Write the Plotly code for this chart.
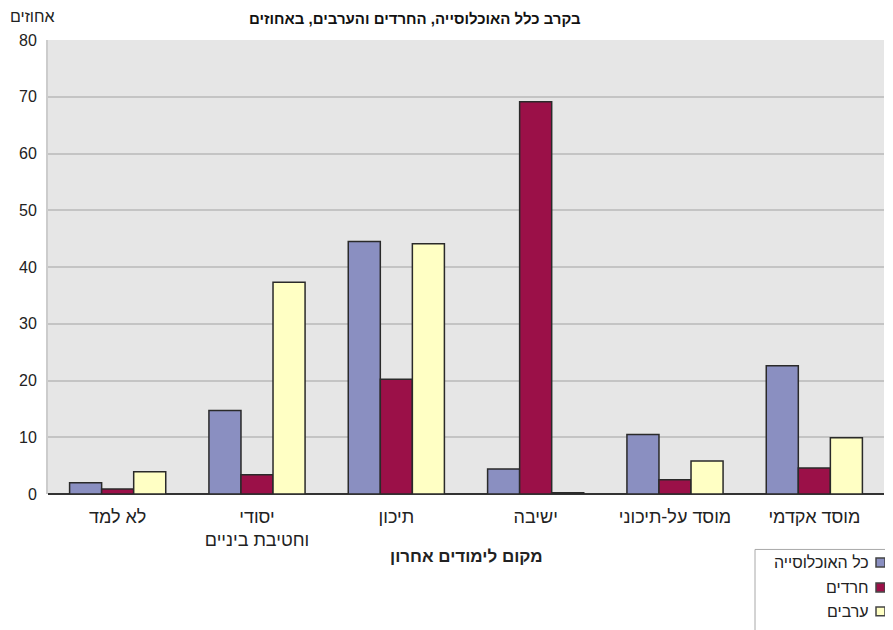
import plotly.graph_objects as go

categories = ["לא למד", "יסודי<br>וחטיבת ביניים", "תיכון", "ישיבה", "מוסד על-תיכוני", "מוסד אקדמי"]
series_names = ["כל האוכלוסייה", "חרדים", "ערבים"]
all_pop = [2.0, 14.7, 44.5, 4.4, 10.5, 22.6]
haredim = [0.9, 3.4, 20.2, 69.1, 2.5, 4.6]
arabs = [3.9, 37.3, 44.1, 0.2, 5.8, 9.9]
series_values = [all_pop, haredim, arabs]
colors = ["#8a8fc1", "#9b1048", "#ffffc4"]
y_ticks = [0, 10, 20, 30, 40, 50, 60, 70, 80]
title_text = "בקרב כלל האוכלוסייה, החרדים והערבים, באחוזים"
y_title = "אחוזים"
x_title = "מקום לימודים אחרון"

W, H = 893, 630
OFF = 8  # page body margin
PL, PT, PB, PR = 48, 40, 494.5, 884  # plot area in page pixels
pw, ph = PR - PL, PB - PT
L = PL - OFF
T = PT - OFF
R = W - L - pw
B = H - T - ph

def px(x):
    return (x - PL) / pw

def py(y):
    return (PB - y) / ph

FONT = "Liberation Sans, Arial, sans-serif"

fig = go.Figure()
for name, vals, col in zip(series_names, series_values, colors):
    fig.add_trace(go.Bar(
        x=categories, y=vals, name=name,
        marker=dict(color=col, line=dict(color="#2a2a2a", width=1.5)),
        showlegend=False,
    ))

fig.update_layout(
    width=W, height=H,
    margin=dict(l=L, r=R, t=T, b=B, autoexpand=False),
    paper_bgcolor="white",
    plot_bgcolor="#e6e6e6",
    barmode="group",
    bargap=0.31,
    bargroupgap=0,
    font=dict(family=FONT, color="#222"),
    xaxis=dict(
        showgrid=False, showline=False, ticks="",
        tickfont=dict(size=18, family=FONT, color="#222"),
        ticklabelstandoff=10,
    ),
    yaxis=dict(
        range=[0, 80], tickvals=y_ticks,
        showgrid=True, gridcolor="#c4c4c4", gridwidth=1.5,
        zeroline=True, zerolinecolor="#333", zerolinewidth=1.5,
        showline=True, linecolor="#cccccc", linewidth=2,
        tickfont=dict(size=16, family=FONT, color="#222"),
        ticks="", ticklabelstandoff=6,
    ),
)

ann = []
# title at the very top
ann.append(dict(text="<b>" + title_text + "</b>", xref="paper", yref="paper",
                x=px(415), y=py(18), xanchor="center", yanchor="middle",
                showarrow=False, font=dict(size=15, family=FONT, color="#111")))
# y axis title
ann.append(dict(text=y_title, xref="paper", yref="paper",
                x=px(8), y=py(16), xanchor="left", yanchor="middle",
                showarrow=False, font=dict(size=16, family=FONT, color="#222")))
# x axis title
ann.append(dict(text="<b>" + x_title + "</b>", xref="paper", yref="paper",
                x=px(466), y=py(557), xanchor="center", yanchor="middle",
                showarrow=False, font=dict(size=17, family=FONT, color="#222")))

shapes = []
# legend box
shapes.append(dict(type="rect", xref="paper", yref="paper",
                   x0=px(755), x1=px(891), y0=py(550), y1=py(640),
                   line=dict(color="#a8a8a8", width=1), fillcolor="white", layer="above"))
legend_y = [563, 588, 612]
for name, col, ly in zip(series_names, colors, legend_y):
    shapes.append(dict(type="rect", xref="paper", yref="paper",
                       x0=px(876), x1=px(885), y0=py(ly - 4.5), y1=py(ly + 4.5),
                       line=dict(color="#444", width=1.5), fillcolor=col, layer="above"))
    ann.append(dict(text=name, xref="paper", yref="paper",
                    x=px(871), y=py(ly), xanchor="right", yanchor="middle",
                    showarrow=False, font=dict(size=16, family=FONT, color="#222")))

fig.update_layout(annotations=ann, shapes=shapes)
fig.write_html("out.html")
